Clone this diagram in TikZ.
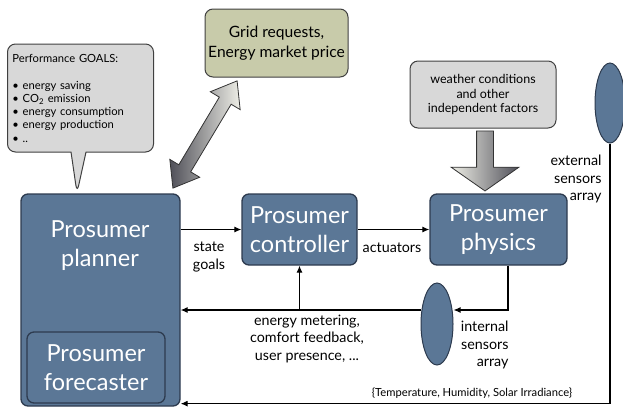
\documentclass[tikz,border=0pt]{standalone}
\usepackage{fontspec}
\setmainfont{Lato}
\usetikzlibrary{arrows.meta,shapes.geometric,shapes.arrows,shapes.callouts,calc}
\definecolor{boxblue}{HTML}{5B7796}
\definecolor{boxline}{HTML}{2D3B4F}
\definecolor{gridfill}{HTML}{C8CBAA}
\definecolor{notefill}{HTML}{D8D8D8}
\definecolor{arrowlight}{HTML}{EEEEE6}
\definecolor{arrowdark}{HTML}{505059}
\begin{document}
\begin{tikzpicture}[x=1pt,y=-1pt,
    bluebox/.style={draw=boxline,line width=1.3pt,fill=boxblue,rounded corners=7pt,
      text=white,font=\fontsize{23.5}{29}\selectfont,align=center,inner sep=0pt},
    boxtext/.style={text=white,font=\fontsize{23.5}{29}\selectfont,align=center},
    notebox/.style={draw=black!75,line width=1pt,rounded corners=8pt,align=center,inner sep=0pt},
    sensor/.style={draw=boxline,line width=1pt,fill=boxblue,ellipse,inner sep=0pt},
    wire/.style={line width=1.1pt,-{Latex[length=7pt,width=6pt]}},
    lbl/.style={font=\fontsize{14.3}{17.5}\selectfont,align=center},
    bigarrow/.style={draw=black!80,line width=0.8pt,inner sep=0pt}]
  \useasboundingbox (0,0) rectangle (623,408);
  % goals, grid and weather boxes
  \node[rectangle callout,notebox,fill=notefill,minimum width=146,minimum height=108,
    callout absolute pointer={(77,193)},callout pointer width=15pt,
    text width=136,align=left,font=\fontsize{11.2}{13.2}\selectfont] (goals) at (80.5,98)
    {Performance GOALS:\\[14pt]
     \textbullet\ energy saving\\
     \textbullet\ CO\textsubscript{2} emission\\
     \textbullet\ energy consumption\\
     \textbullet\ energy production\\
     \textbullet\ ..};
  \node[notebox,fill=gridfill,minimum width=143,minimum height=68,
    font=\fontsize{15.6}{20}\selectfont] (grid) at (276.5,43) {Grid requests,\\Energy market price};
  \node[notebox,fill=notefill,minimum width=146,minimum height=67,
    font=\fontsize{12.5}{14.5}\selectfont] (weather) at (483,94.5)
    {weather conditions\\and other\\independent factors};
  % prosumer blocks
  \node[bluebox,minimum width=159,minimum height=212] (planner) at (100.5,300) {};
  \node[boxtext] (plannerlbl) at (100,246) {Prosumer\\planner};
  \node[bluebox,minimum width=138,minimum height=71] (forecaster) at (96,367.5) {Prosumer\\forecaster};
  \node[bluebox,minimum width=115,minimum height=71] (controller) at (299.5,229.5) {Prosumer\\controller};
  \node[bluebox,minimum width=137,minimum height=71] (physics) at (498.5,229.5) {Prosumer\\physics};
  \node[sensor,minimum width=32,minimum height=82] (intsens) at (437,324) {};
  \node[sensor,minimum width=30,minimum height=80] (extsens) at (610,103) {};
  % big arrows
  \coordinate (gridtip) at (237,81);
  \coordinate (plannertip) at (173,188);
  \node[double arrow,bigarrow,rotate=59.1,minimum height=125,minimum width=34,inner ysep=6.5,
    double arrow head extend=10.5,double arrow tip angle=74,
    left color=arrowdark,right color=arrowlight] (gridarrow)
    at ($(plannertip)!0.5!(gridtip)$) {};
  \node[single arrow,bigarrow,rotate=-90,minimum height=60,minimum width=67,inner ysep=8,
    single arrow head extend=25.5,single arrow tip angle=110,
    left color=arrowlight,right color=arrowdark] (weatherarrow) at (485,158) {};
  % connectors
  \draw[wire] (planner.east |- controller.west) -- (controller.west);
  \draw[wire] (controller.east) -- (physics.west);
  \draw[wire] ([xshift=9.5pt]physics.south) |- ([yshift=14pt]intsens.east);
  \coordinate (feedback) at ([yshift=14pt]intsens.west);
  \draw[wire] (feedback) -- (feedback -| planner.east);
  \draw[wire] (feedback -| controller.south) -- (controller.south);
  \draw[wire] (extsens.south) |- ([yshift=3pt]planner.south east);
  % labels
  \node[lbl] (goalslbl) at (209,257) {state\\goals};
  \node[lbl] (actlbl) at (392,248) {actuators};
  \node[lbl] (meterlbl) at (307,339) {energy metering,\\comfort feedback,\\user presence, ...};
  \node[lbl,align=right,anchor=east] (intlbl) at (512,345) {internal\\sensors\\array};
  \node[lbl,align=right,anchor=east] (extlbl) at (605,179) {external\\sensors\\array};
  \node[font=\fontsize{11.2}{12}\selectfont] (quantlbl) at (472,393)
    {\{Temperature, Humidity, Solar Irradiance\}};
\end{tikzpicture}
\end{document}
